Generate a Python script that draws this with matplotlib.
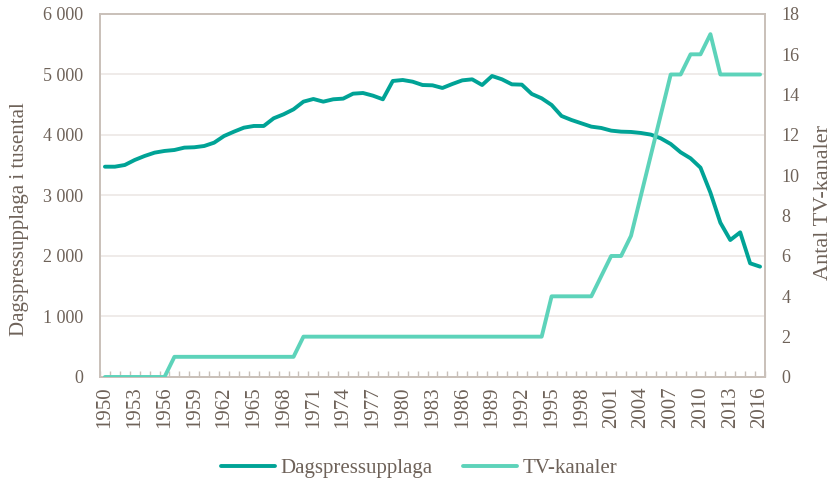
import numpy as np
import matplotlib.pyplot as plt
from matplotlib.ticker import FuncFormatter

years = list(range(1950, 2017))

# Dagspressupplaga i tusental
upplaga = [3476, 3476, 3504, 3587, 3653, 3708, 3736, 3752, 3791, 3797,
           3818, 3873, 3983, 4055, 4121, 4149, 4149, 4276, 4342, 4424,
           4551, 4595, 4551, 4590, 4601, 4683, 4694, 4650, 4590, 4893,
           4909, 4881, 4826, 4821, 4777, 4843, 4903, 4920, 4826, 4975,
           4920, 4837, 4832, 4678, 4606, 4496, 4314, 4248, 4193, 4138,
           4116, 4072, 4055, 4050, 4033, 4006, 3945, 3851, 3714, 3614,
           3460, 3047, 2551, 2264, 2391, 1879, 1824]

# Antal TV-kanaler
tv = [0, 0, 0, 0, 0, 0, 0, 1, 1, 1,
      1, 1, 1, 1, 1, 1, 1, 1, 1, 1,
      2, 2, 2, 2, 2, 2, 2, 2, 2, 2,
      2, 2, 2, 2, 2, 2, 2, 2, 2, 2,
      2, 2, 2, 2, 2, 4, 4, 4, 4, 4,
      5, 6, 6, 7, 9, 11, 13, 15, 15, 16,
      16, 17, 15, 15, 15, 15, 15]

plt.rcParams['font.family'] = ['Liberation Serif', 'DejaVu Serif']
txt = '#6e6259'
spine = '#c9c0b9'
dark = '#00a396'
light = '#5dd3ba'

fig = plt.figure(figsize=(8.38, 4.84), dpi=100)
ax = fig.add_axes([0.1193, 0.2211, 0.7936, 0.75])
ax2 = ax.twinx()

x = np.arange(len(years))
l1, = ax.plot(x, upplaga, color=dark, lw=2.8, solid_capstyle='round', zorder=3)
l2, = ax2.plot(x, tv, color=light, lw=2.8, solid_capstyle='round', zorder=3)

ax.set_xlim(-0.5, len(years) - 0.5)
ax.set_ylim(0, 6000)
ax2.set_ylim(0, 18)
ax.set_yticks(range(0, 6001, 1000))
ax2.set_yticks(range(0, 19, 2))
ax.yaxis.set_major_formatter(FuncFormatter(lambda v, p: f"{int(v):,}".replace(",", " ")))

ax.set_xticks(x[::3])
ax.set_xticklabels([str(y) for y in years[::3]], rotation=90)
ax.set_xticks(np.arange(-0.5, len(years), 1), minor=True)
ax.tick_params(axis='x', which='major', length=0, pad=7)
ax.tick_params(axis='x', which='minor', direction='in', length=4, color=spine, width=1)

ax.grid(axis='y', color='#ece8e5', lw=1.2, zorder=0)
ax.set_axisbelow(True)
for a in (ax, ax2):
    for s in a.spines.values():
        s.set_color(spine)
        s.set_linewidth(1.2)
    a.tick_params(axis='y', length=0, labelcolor=txt, labelsize=13, pad=12)
ax.tick_params(axis='x', labelcolor=txt, labelsize=15)

ax.set_ylabel('Dagspressupplaga i tusental', color=txt, fontsize=15, labelpad=10)
ax.yaxis.label.set_y(0.435)
ax2.set_ylabel('Antal TV-kanaler', color=txt, fontsize=16, labelpad=10)
ax2.yaxis.label.set_y(0.482)

leg = fig.legend([l1, l2], ['Dagspressupplaga', 'TV-kanaler'], loc='center',
                 bbox_to_anchor=(0.5, 0.033), ncol=2, frameon=False,
                 fontsize=15, handlelength=2.6, columnspacing=1.5, handletextpad=0.25)
for t in leg.get_texts():
    t.set_color(txt)

fig.savefig('out.png', dpi=100)
